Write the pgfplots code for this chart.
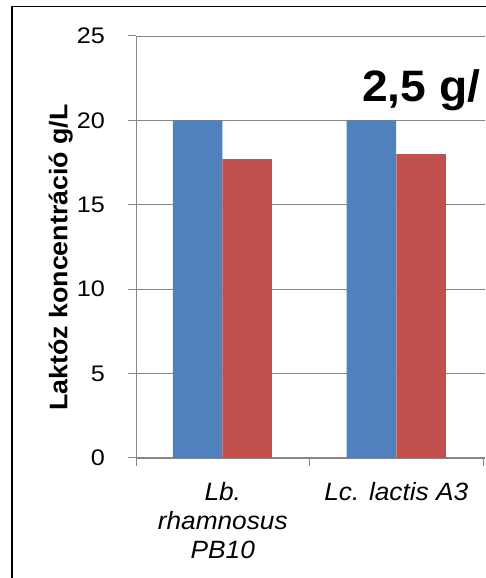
\documentclass[border=0pt]{standalone}
\usepackage{fontspec}
\setmainfont{Liberation Sans}[FakeStretch=1.05]
\newfontfamily\tickfont{Liberation Sans}[FakeStretch=1.12]
\usepackage{pgfplots}
\pgfplotsset{compat=1.18}
\definecolor{xlblue}{HTML}{4F81BD}
\definecolor{xlred}{HTML}{C0504D}
\definecolor{axgray}{HTML}{868686}
\begin{document}
\begin{tikzpicture}[x=1pt,y=1pt]
\fill[white] (0,0) rectangle (485,578);
\begin{axis}[
  at={(136pt,120pt)}, anchor=south west,
  scale only axis, width=349pt, height=422pt,
  xmin=0, xmax=2.0115, ymin=0, ymax=25,
  ytick={0,5,10,15,20,25},
  ymajorgrids, grid style={axgray, line width=0.8pt},
  axis lines*=left,
  axis line style={axgray, line width=1pt},
  tick style={axgray, line width=1pt},
  tick align=outside, major tick length=8pt,
  xtick={0,1,2}, xticklabels={},
  extra x ticks={0.5,1.5},
  extra x tick labels={{\itshape Lb.\\\itshape rhamnosus\\\itshape PB10},{\itshape Lc. lactis A3}},
  extra x tick style={major tick length=0pt, tick label style={align=center, font=\fontsize{25}{29}\selectfont, anchor=north, inner sep=0pt, yshift=-24pt}},
  yticklabel style={font=\tickfont\fontsize{22.5}{26}\selectfont, anchor=east, inner sep=0pt, xshift=-23pt},
  /pgf/number format/assume math mode=true,
  ylabel={Laktóz koncentráció g/L},
  ylabel style={at={(axis description cs:-0.216,0.475)}, anchor=center, font=\bfseries\fontsize{25.5}{30}\selectfont},
]
\addplot[ybar, bar width=49.5pt, fill=xlblue, draw=none] coordinates {(0.355,20) (1.357,20)};
\addplot[ybar, bar width=49.5pt, fill=xlred, draw=none] coordinates {(0.640,17.7) (1.643,18.0)};
\end{axis}
\node[anchor=base west, font=\bfseries\fontsize{44}{50}\selectfont, inner sep=0pt] at (362,476.3) {2,5 g/};
\draw[black, line width=1.5pt] (12,-20) |- (520,571.5);
\pgfresetboundingbox
\useasboundingbox (0,0) rectangle (485,578);
\end{tikzpicture}
\end{document}
